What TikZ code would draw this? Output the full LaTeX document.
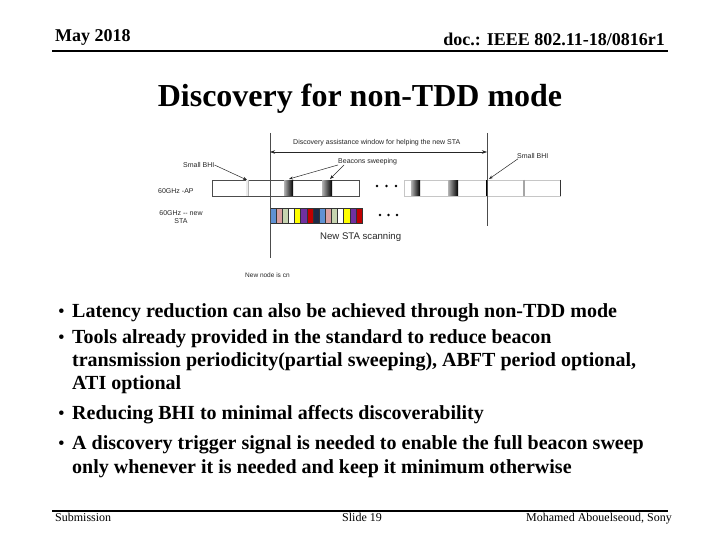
\documentclass[tikz,border=0pt]{standalone}
\usepackage{fontspec}
\setmainfont{Liberation Serif}
\newfontfamily\diagf{Liberation Sans}
\usetikzlibrary{arrows.meta}
\definecolor{sblue}{RGB}{95,145,210}
\definecolor{spink}{RGB}{218,160,160}
\definecolor{ssage}{RGB}{198,212,176}
\definecolor{syellow}{RGB}{255,255,0}
\definecolor{spurple}{RGB}{112,48,160}
\definecolor{sred}{RGB}{192,0,0}
\definecolor{snavy}{RGB}{30,42,70}
\begin{document}
\begin{tikzpicture}[x=1pt,y=-1pt,
  hdr/.style={font=\fontsize{18}{18}\selectfont\bfseries, inner sep=0pt},
  ftr/.style={font=\fontsize{12}{12}\selectfont, inner sep=0pt},
  bul/.style={font=\fontsize{20}{20}\selectfont\bfseries, inner sep=0pt, anchor=base west},
  dot/.style={font=\fontsize{19}{19}\selectfont, inner sep=0pt, anchor=base west},
  lbl/.style={font=\diagf\fontsize{7}{8.5}\selectfont, inner sep=0pt, text=black!85},
  arr/.style={-{Stealth[length=4pt,width=3pt]}, line width=0.5pt, black!85},
  vline/.style={line width=0.8pt, black!70},
  barbox/.style={draw=black!70, line width=0.5pt, fill=white},
  beacon/.style={left color=gray!60, right color=black, draw=none},
  seg/.style={draw=black!80, line width=0.4pt},
  ell/.style={circle, fill=black, inner sep=0pt, minimum size=2.6pt},
]
\useasboundingbox[fill=white] (0,0) rectangle (720,540);

% header
\node[hdr, anchor=base west] (date) at (55,42) {May 2018};
\node[hdr, anchor=base east] (doc) at (665,46) {doc.: IEEE 802.11-18/0816r1};
\coordinate (hl) at (52,51); \coordinate (hr) at (668,51);
\draw[line width=1.8pt] (hl) -- (hr);

% title
\node[font=\fontsize{32}{32}\selectfont\bfseries, inner sep=0pt, anchor=base] (title) at (360,107) {Discovery for non-TDD mode};

% ---------- diagram ----------
\coordinate (vlt) at (270,133); \coordinate (vlb) at (270,258);
\coordinate (vrt) at (487,133); \coordinate (vrb) at (487,226);

% AP bar (left part)
\draw[barbox] (212,180) rectangle (359,196);
\fill[gray!15] (245.5,180.3) rectangle (248,195.7);
\draw[gray!60, line width=1pt] (248.5,180) -- (248.5,196);
\shade[beacon] (284,180.3) rectangle (293,195.7);
\shade[beacon] (322,180.3) rectangle (332,195.7);
% AP bar (right part)
\draw[draw=gray!45, line width=0.5pt] (404,180) rectangle (560,196);
\shade[beacon] (411,180.3) rectangle (420,195.7);
\shade[beacon] (448,180.3) rectangle (458,195.7);
\draw[gray!70, line width=1.3pt] (524,180) -- (524,196);
\draw[black!80, line width=1pt] (560,180) -- (560,196);
\draw[black, line width=2pt] (487,180) -- (487,196);

\node[ell] (d1) at (377,186) {}; \node[ell] (d2) at (386.5,186) {}; \node[ell] (d3) at (396,186) {};

% STA bar
\foreach \c [count=\i from 0] in {sblue,spink,ssage,white,syellow,spurple,sred,snavy,sblue,spink,ssage,white,syellow,spurple,sred}{
  \draw[seg, fill=\c] ({270+\i*6.133},208) rectangle ({270+(\i+1)*6.133},223);
}
\node[ell] (e1) at (380,215) {}; \node[ell] (e2) at (388.5,215) {}; \node[ell] (e3) at (397,215) {};

% verticals
\draw[vline] (vlt) -- (vlb);
\draw[vline] (vrt) -- (vrb);

% window arrow
\coordinate (wl) at (270,152); \coordinate (wr) at (487,152);
\draw[{Stealth[length=5pt,width=3.5pt]}-{Stealth[length=5pt,width=3.5pt]}, line width=0.5pt, black!85] (wl) -- (wr);
\node[lbl, anchor=west] (win) at (293,143) {Discovery assistance window for helping the new STA};

% labels
\node[lbl, anchor=west] (ap) at (158,191) {60GHz -AP};
\node[lbl, align=center] (sta) at (181,217) {60GHz -- new\\STA};
\node[lbl, anchor=west] (bhil) at (183,165) {Small BHI};
\coordinate (bhilt) at (247,180);
\draw[arr] (bhil.east) -- (bhilt);
\node[lbl, anchor=west] (bsw) at (338,162) {Beacons sweeping};
\coordinate (bs1) at (289,179); \coordinate (bs2) at (330,179);
\draw[arr] (bsw.south west) ++(0,-0.5) -- (bs1);
\draw[arr] (bsw.south west) ++(6,-0.5) -- (bs2);
\node[lbl, anchor=west] (bhir) at (517,156) {Small BHI};
\coordinate (bhirt) at (489,179);
\draw[arr] (bhir.south west) ++(1,0) -- (bhirt);
\node[font=\diagf\fontsize{9.6}{10}\selectfont, inner sep=0pt, anchor=west, text=black!85] (scan) at (320,237) {New STA scanning};
\node[font=\diagf\fontsize{6.5}{8}\selectfont, inner sep=0pt, anchor=west, text=black!85] (non) at (245,275) {New node is cn};

% ---------- bullets ----------
\node[dot] (b1) at (58,317) {•};
\node[bul] (t1) at (72,317) {Latency reduction can also be achieved through non-TDD mode};
\node[dot] (b2) at (58,343) {•};
\node[bul] (t2) at (72,343) {Tools already provided in the standard to reduce beacon};
\node[bul] (t3) at (72,366) {transmission periodicity(partial sweeping), ABFT period optional,};
\node[bul] (t4) at (72,389) {ATI optional};
\node[dot] (b3) at (58,419) {•};
\node[bul] (t5) at (72,419) {Reducing BHI to minimal affects discoverability};
\node[dot] (b4) at (58,449) {•};
\node[bul] (t6) at (72,449) {A discovery trigger signal is needed to enable the full beacon sweep};
\node[bul] (t7) at (72,473) {only whenever it is needed and keep it minimum otherwise};

% ---------- footer ----------
\coordinate (fl) at (52,511); \coordinate (fr) at (668,511);
\draw[line width=1.5pt] (fl) -- (fr);
\node[ftr, anchor=base west] (sub) at (55,521) {Submission};
\node[ftr, anchor=base] (slide) at (362,521) {Slide 19};
\node[ftr, anchor=base east] (auth) at (672,521) {Mohamed Abouelseoud, Sony};
\end{tikzpicture}
\end{document}
